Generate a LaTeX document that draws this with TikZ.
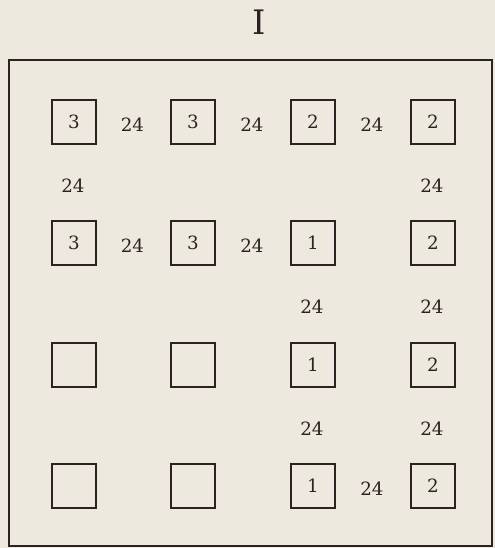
\documentclass[tikz,border=0pt]{standalone}
\usepackage{fontspec}
\setmainfont{DejaVu Serif}
\usepackage{tikz}
\usetikzlibrary{calc,positioning}
\definecolor{paper}{HTML}{EEE9DF}
\definecolor{ink}{HTML}{2B2222}

\begin{document}
\begin{tikzpicture}[x=0.25mm,y=-0.25mm,font=\fontsize{13}{15}\selectfont,
  cell/.style={draw=ink,line width=0.9pt,minimum size=11mm,inner sep=0pt,text=ink},
  dist/.style={text=ink,inner sep=1pt}]
\fill[paper] (0,0) rectangle (495,548);
\useasboundingbox (0,0) rectangle (495,548);
\node[text=ink,font=\fontsize{24}{28}\selectfont] (title) at (259,22) {I};
\draw[ink,line width=1.3pt] (9,60) rectangle (492,546);
% cells: row/col/label
\foreach \r/\y in {1/122,2/243,3/365,4/486}
  \foreach \c/\x in {1/74,2/193,3/313,4/433}
    \node[cell] (c\r\c) at (\x,\y) {};
\foreach \r/\c/\lab in {1/1/3,1/2/3,1/3/2,1/4/2,2/1/3,2/2/3,2/3/1,2/4/2,3/3/1,3/4/2,4/3/1,4/4/2}
  \node[text=ink] at (c\r\c) {\lab};
% distances between cells
\foreach \a/\b in {c11/c12,c12/c13,c13/c14,c11/c21,c14/c24,c21/c22,c22/c23,c23/c33,c24/c34,c33/c43,c34/c44,c43/c44}
  \node[dist] (d-\a-\b) at ($(\a)!0.5!(\b)+(-1,3)$) {24};
\end{tikzpicture}
\end{document}
